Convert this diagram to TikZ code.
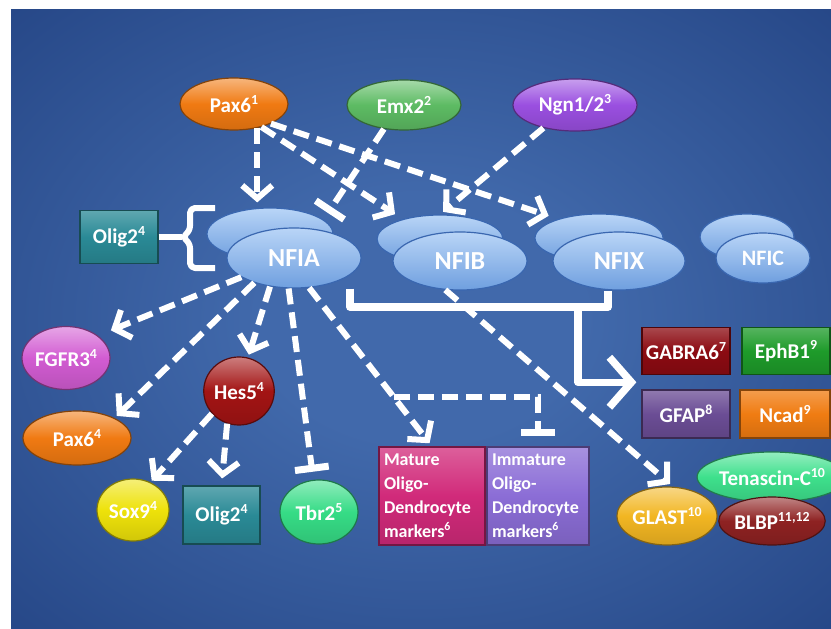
\documentclass[tikz,border=0pt]{standalone}
\usepackage{fontspec}
\setmainfont{Carlito}
\usetikzlibrary{shapes.geometric,arrows.meta,calc}
\definecolor{bgin}{HTML}{4169AB}
\definecolor{bgout}{HTML}{0B2563}
\definecolor{cOrange}{HTML}{F07A12}
\definecolor{cGreen}{HTML}{5DBB63}
\definecolor{cPurple}{HTML}{9A4FE0}
\definecolor{cTeal}{HTML}{2A8A96}
\definecolor{cPink}{HTML}{D25CD2}
\definecolor{cHes}{HTML}{A31414}
\definecolor{cYellow}{HTML}{EEE20A}
\definecolor{cTbr}{HTML}{36DC86}
\definecolor{cMag}{HTML}{D12A7A}
\definecolor{cLav}{HTML}{8B6DD6}
\definecolor{cGab}{HTML}{8C0B12}
\definecolor{cEph}{HTML}{1E9B2A}
\definecolor{cGfap}{HTML}{6B4D95}
\definecolor{cNcad}{HTML}{F07C12}
\definecolor{cGlast}{HTML}{F2B622}
\definecolor{cTen}{HTML}{3EE08C}
\definecolor{cBlbp}{HTML}{8E2222}
\definecolor{nfiTop}{HTML}{B9D5F7}
\definecolor{nfiBot}{HTML}{6F9FDF}
\definecolor{nfiEdge}{HTML}{3A67B0}
\pgfdeclareradialshading{bgshade}{\pgfpoint{0bp}{0bp}}{color(0bp)=(bgin); color(10bp)=(bgin); color(62bp)=(bgout); color(80bp)=(bgout)}
\newcommand\supr[1]{\raisebox{0.4em}{\scalebox{0.66}{#1}}}
\begin{document}
\begin{tikzpicture}[x=1pt,y=-1pt,
  lab/.style={text=white, font=\bfseries\fontsize{21}{23}\selectfont},
  blob/.style={ellipse, inner sep=0pt, lab, draw=#1!55!black, line width=1.2pt,
    top color=#1!55!white, bottom color=#1!88!black, middle color=#1},
  boxs/.style={rectangle, inner sep=0pt, lab, draw=#1!55!black, line width=1.2pt,
    top color=#1!75!white, bottom color=#1!88!black, middle color=#1},
  nfi/.style={ellipse, inner sep=0pt, draw=nfiEdge, line width=1.2pt,
    top color=nfiTop, bottom color=nfiBot, text=white,
    font=\bfseries\fontsize{26}{28}\selectfont},
  darr/.style={draw=white, line width=6pt, dash pattern=on 16pt off 8pt,
    -{Straight Barb[length=13pt,width=30pt]}, shorten >=#1},
  darr/.default=2pt,
  inh/.style={draw=white, line width=6pt, dash pattern=on 16pt off 8pt,
    -{Bar[width=34pt,line width=7pt]}, shorten >=#1},
  inh/.default=2pt,
  Lline/.style={draw=white, line width=7.5pt, line join=round},
  brace/.style={draw=white, line width=6pt, line join=round}
]
\useasboundingbox (0,0) rectangle (831,629);
\fill[white] (0,0) rectangle (831,629);
\shade[shading=bgshade] (11,9) rectangle (831,629);

% top regulators
\node[blob=cOrange, minimum width=108pt, minimum height=52pt] (pax1) at (234,104) {Pax6\supr{1}};
\node[blob=cGreen, minimum width=114pt, minimum height=50pt] (emx2) at (404,105) {Emx2\supr{2}};
\node[blob=cPurple, minimum width=124pt, minimum height=52pt] (ngn) at (575,105) {Ngn1/2\supr{3}};

% NFI family
\node[nfi, minimum width=126pt, minimum height=52pt] (nfiaback) at (270,234) {};
\node[nfi, minimum width=134pt, minimum height=60pt] (nfia) at (294,258) {NFIA};
\node[nfi, minimum width=126pt, minimum height=48pt] (nfibback) at (440,239) {};
\node[nfi, minimum width=134pt, minimum height=58pt] (nfib) at (460,261) {NFIB};
\node[nfi, minimum width=128pt, minimum height=48pt] (nfixback) at (599,238) {};
\node[nfi, minimum width=132pt, minimum height=58pt] (nfix) at (619,261) {NFIX};
\node[nfi, minimum width=94pt, minimum height=46pt] (nficback) at (747,237) {};
\node[nfi, minimum width=94pt, minimum height=50pt, font=\bfseries\fontsize{22}{24}\selectfont] (nfic) at (763,258) {NFIC};

% Olig2 with brace
\node[boxs=cTeal, minimum width=78pt, minimum height=53pt] (olig2a) at (119,237) {Olig2\supr{4}};
\coordinate (bracetip) at (182,237);
\draw[brace, rounded corners=5pt] (215,208) -- (190,208) -- (190,231) -- (bracetip) -- (190,243) -- (190,268) -- (215,268);
\draw[brace] (olig2a.east) -- (bracetip);

% targets
\node[blob=cPink, minimum width=88pt, minimum height=63pt] (fgfr3) at (66,358) {FGFR3\supr{4}};
\node[blob=cOrange, minimum width=108pt, minimum height=54pt] (pax4) at (77,438) {Pax6\supr{4}};
\node[blob=cHes, minimum width=68pt, minimum height=68pt] (hes5) at (239,391) {Hes5\supr{4}};
\node[blob=cYellow, minimum width=72pt, minimum height=62pt] (sox9) at (133,510) {Sox9\supr{4}};
\node[boxs=cTeal, minimum width=77pt, minimum height=58pt] (olig2b) at (221.5,515) {Olig2\supr{4}};
\node[blob=cTbr, minimum width=78pt, minimum height=64pt] (tbr2) at (319,512) {Tbr2\supr{5}};
\node[boxs=cMag, minimum width=106pt, minimum height=98pt, align=left, text width=96pt,
  font=\bfseries\fontsize{18}{24}\selectfont] (mature) at (432,496)
  {Mature\\Oligo-\\Dendrocyte\\markers\supr{6}};
\node[boxs=cLav, minimum width=102pt, minimum height=98pt, align=left, text width=92pt,
  font=\bfseries\fontsize{18}{24}\selectfont] (immature) at (538,496)
  {Immature\\Oligo-\\Dendrocyte\\markers\supr{6}};

\node[boxs=cGab, minimum width=88pt, minimum height=47pt] (gabra) at (686,351) {GABRA6\supr{7}};
\node[boxs=cEph, minimum width=88pt, minimum height=47pt] (ephb1) at (786,351) {EphB1\supr{9}};
\node[boxs=cGfap, minimum width=88pt, minimum height=48pt] (gfap) at (686,414) {GFAP\supr{8}};
\node[boxs=cNcad, minimum width=90pt, minimum height=48pt] (ncad) at (785,414) {Ncad\supr{9}};

\node[blob=cTen, minimum width=128pt, minimum height=50pt] (tenascin) at (772,477) {Tenascin-C\supr{10}};
\node[blob=cGlast, minimum width=100pt, minimum height=58pt] (glast) at (667,516) {GLAST\supr{10}};
\node[blob=cBlbp, minimum width=106pt, minimum height=48pt] (blbp) at (772,521) {BLBP\supr{11,12}};

% NFI -> cluster of targets (solid L)
\coordinate (La) at ($(nfia.south)+(56,0)$);
\coordinate (Lb) at ($(nfix.south)+(-11,0)$);
\draw[Lline] (La) -- (La |- 0,307) -- (Lb |- 0,307) -- (Lb);
\coordinate (Ltrunk) at (578,307);
\draw[Lline, -{Straight Barb[length=22pt,width=50pt]}, shorten >=5pt]
  (Ltrunk) |- ($(gabra.south west)!0.5!(gfap.north west)$);

% upstream regulation
\draw[darr=5pt] (pax1.-46) -- (pax1.-46 |- nfiaback.north);
\draw[darr=9pt] (pax1.-40) -- (nfibback.152);
\draw[darr=10pt] (pax1.-28) -- (nfixback.155);
\draw[inh=8pt] (emx2.-130) -- (nfiaback.15);
\draw[darr=4pt] (ngn.-144) -- (nfibback.north);

% NFIA downstream
\draw[darr=14pt] (nfia.-160) -- (fgfr3.35);
\draw[darr=3pt] (nfia.-148) -- (pax4.28);
\draw[darr=3pt] (nfia.-130) -- (hes5.75);
\draw[inh=8pt] (nfia.-100) -- (tbr2.100);
\draw[darr=4pt] (nfia.-63) -- (mature.north);
\path (nfia.-63) -- (mature.north) coordinate[pos=0.69] (br);
\draw[inh=10pt] (br) -| (immature.north);

% Hes5 downstream
\draw[darr=2pt] (hes5.-140) -- (sox9.58);
\draw[darr=7pt] (hes5.-110) -- (olig2b.north);

% NFIB -> GLAST
\draw[darr=4pt] (nfib.-117) -- (glast.78);
\end{tikzpicture}
\end{document}
